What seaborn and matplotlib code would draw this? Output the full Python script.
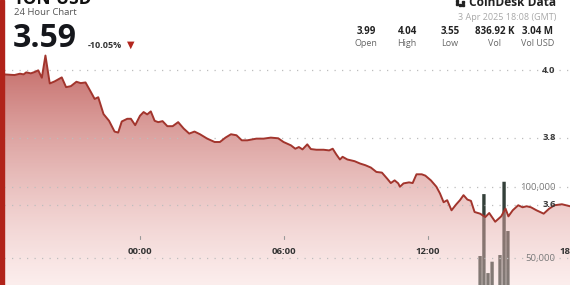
import numpy as np
import matplotlib
matplotlib.use("Agg")
import matplotlib.pyplot as plt
import matplotlib.transforms as mtransforms
from matplotlib.patches import Rectangle
from matplotlib.lines import Line2D
import seaborn as sns

# ---------------- data ----------------
hours = [-5.68, -5.23, -5.0, -4.85, -4.74, -4.55, -4.39, -4.24, -4.09, -3.94,
         -3.76, -3.56, -3.26, -3.08, -2.88, -2.65, -2.47, -2.27, -2.05, -1.89,
         -1.74, -1.52, -1.29, -1.06, -0.91, -0.76, -0.53, -0.38, -0.20, 0.0,
         0.15, 0.30, 0.45, 0.61, 0.76, 0.94, 1.14, 1.36, 1.59, 1.82,
         2.05, 2.27, 2.50, 2.80, 3.11, 3.33, 3.56, 3.79, 4.02, 4.24,
         4.47, 4.62, 4.85, 5.15, 5.45, 5.76, 5.98, 6.29, 6.47, 6.62,
         6.77, 6.97, 7.12, 7.35, 7.65, 7.88, 8.03, 8.18, 8.33, 8.44,
         8.64, 8.94, 9.17, 9.39, 9.62, 9.85, 10.08, 10.30, 10.45, 10.61,
         10.76, 10.83, 10.98, 11.21, 11.36, 11.52, 11.74, 11.89, 12.12, 12.35,
         12.50, 12.65, 12.80, 12.98, 13.18, 13.33, 13.48, 13.64, 13.79, 13.94,
         14.17, 14.39, 14.55, 14.80, 15.05, 15.23, 15.35, 15.53, 15.76, 15.94,
         16.11, 16.29, 16.52, 16.82, 17.05, 17.27, 17.58, 17.92]
prices = [3.988, 3.986, 3.990, 3.988, 3.994, 3.991, 3.995, 4.000, 3.978, 4.044,
          3.961, 3.967, 3.979, 3.950, 3.953, 3.966, 3.962, 3.964, 3.936, 3.915,
          3.920, 3.870, 3.850, 3.818, 3.815, 3.848, 3.856, 3.856, 3.837, 3.865,
          3.876, 3.869, 3.878, 3.850, 3.846, 3.849, 3.834, 3.834, 3.846, 3.827,
          3.812, 3.818, 3.810, 3.797, 3.787, 3.787, 3.800, 3.810, 3.807, 3.792,
          3.792, 3.794, 3.797, 3.797, 3.800, 3.798, 3.787, 3.777, 3.767, 3.772,
          3.765, 3.780, 3.766, 3.764, 3.764, 3.762, 3.767, 3.750, 3.735, 3.743,
          3.735, 3.730, 3.723, 3.718, 3.711, 3.698, 3.696, 3.678, 3.665, 3.673,
          3.664, 3.654, 3.664, 3.667, 3.665, 3.691, 3.691, 3.687, 3.673, 3.654,
          3.634, 3.608, 3.614, 3.584, 3.602, 3.614, 3.629, 3.616, 3.612, 3.579,
          3.574, 3.564, 3.576, 3.550, 3.566, 3.589, 3.566, 3.584, 3.599, 3.593,
          3.596, 3.593, 3.584, 3.574, 3.589, 3.599, 3.602, 3.596]

vol_hours = [14.17, 14.33, 14.50, 14.67, 15.00, 15.17, 15.33]
vol_values = [51400, 95000, 39400, 47400, 52100, 103700, 69000]

x_ticks = [0, 6, 12, 18]
x_tick_labels = ["00:00", "06:00", "12:00", "18:00"]
price_ticks = [4.0, 3.8, 3.6]
price_tick_labels = ["4.0", "3.8", "3.6"]
vol_ticks = [100000, 50000]
vol_tick_labels = ["100,000", "50,000"]

title = "TON-USD"
subtitle = "24 Hour Chart"
last_price = "3.59"
change = "-10.05%"
brand = "CoinDesk Data"
timestamp = "3 Apr 2025 18:08 (GMT)"
stat_values = ["3.99", "4.04", "3.55", "836.92 K", "3.04 M"]
stat_labels = ["Open", "High", "Low", "Vol", "Vol USD"]

# ---------------- style ----------------
sns.set_theme(style="white")
plt.rcParams["font.family"] = ["Open Sans", "DejaVu Sans"]

W, H = 570, 285
fig = plt.figure(figsize=(W / 100, H / 100), dpi=100)
fig.patch.set_facecolor("white")

def fx(px):
    return px / W

def fy(py):
    return 1 - py / H

left_px = 4
ax_v = fig.add_axes([fx(left_px), 0, 1 - fx(left_px), 1])
ax_p = ax_v.twinx()
ax_p.patch.set_visible(False)

x_lim = ((left_px - 140) / 24, (W - 140) / 24)
p_lim = (3.362, 4.209)
v_lim = (30990, 231690)

# volume bars (behind price fill), 10-minute bins
bars = ax_v.bar(vol_hours, vol_values, width=0.14, color="#34403a",
                linewidth=0, edgecolor="none", zorder=1)
for b in bars:
    b.set_snap(False)

# price line
sns.lineplot(x=hours, y=prices, ax=ax_p, color="#a2352d", linewidth=1.4, zorder=5)

# gradient area under line
poly = ax_p.fill_between(hours, prices, y2=p_lim[0] - 0.1,
                         facecolor="none", edgecolor="none")
n = 256
t = np.linspace(0, 1, n)[:, None]
top = np.array([172, 45, 40]) / 255
bot = np.array([248, 212, 210]) / 255
rgb = top * (1 - t) + bot * t
alpha = 0.74 * (1 - t) + 0.40 * t
img = np.concatenate([rgb, alpha], axis=1)[:, None, :]
im = ax_p.imshow(img, extent=[x_lim[0], x_lim[1], p_lim[0], 4.06],
                 aspect="auto", origin="upper", zorder=2, interpolation="bilinear")
im.set_clip_path(poly.get_paths()[0], poly.get_transform())

# dotted grid lines
dot = (0, (1, 5))
for v in price_ticks:
    ax_p.axhline(v, color="#bdbdbd", lw=0.9, ls=dot, zorder=3)
vt = mtransforms.blended_transform_factory(ax_p.transAxes, ax_v.transData)
for v in vol_ticks:
    ax_p.add_line(Line2D([0, 1], [v, v], transform=vt, color="#bdbdbd",
                         lw=0.9, ls=dot, zorder=3))

# axis labels inside plot
pt = mtransforms.blended_transform_factory(ax_p.transAxes, ax_p.transData)
for v, lab in zip(price_ticks, price_tick_labels):
    ax_p.text(0.975, v, lab, transform=pt, ha="right", va="center",
              fontsize=6.8, fontweight="bold", color="#3a3a3a", zorder=6)
for v, lab in zip(vol_ticks, vol_tick_labels):
    ax_p.text(0.975, v, lab, transform=vt, ha="right", va="center",
              fontsize=6.8, color="#7a7a7a", zorder=6)

xt = mtransforms.blended_transform_factory(ax_p.transData, ax_p.transAxes)
for v, lab in zip(x_ticks, x_tick_labels):
    ax_p.text(v, 1 - 252 / H, lab, transform=xt, ha="center", va="center",
              fontsize=6.8, fontweight="bold", color="#333333", zorder=6,
              clip_on=False)
    ax_p.plot([v, v], [1 - 236 / H, 1 - 239 / H], transform=xt,
              color="#999999", lw=0.8, zorder=6)

for a in (ax_v, ax_p):
    a.set_xlim(*x_lim)
    a.set_xticks([])
    a.set_yticks([])
    a.set_xlabel("")
    a.set_ylabel("")
    for s in a.spines.values():
        s.set_visible(False)
ax_p.set_ylim(*p_lim)
ax_v.set_ylim(*v_lim)

# left stripe
fig.patches.append(Rectangle((0, 0), fx(left_px), 1, transform=fig.transFigure,
                             color="#b1231a", zorder=10))

# header
fig.text(fx(14), fy(4), title, fontsize=12.5, fontweight="bold",
         color="#111111", va="baseline", ha="left")
fig.text(fx(14), fy(12.5), subtitle, fontsize=6.8, color="#555555",
         va="center", ha="left")
fig.text(fx(13), fy(47), last_price, fontsize=23, fontweight="bold",
         color="#15171c", va="baseline", ha="left")
fig.text(fx(88), fy(45), change, fontsize=6.5, fontweight="bold",
         color="#333333", va="center", ha="left")
fig.text(fx(131), fy(45), "▼", fontsize=7, color="#b3261e", va="center",
         ha="center", family="DejaVu Sans")

fig.text(fx(556), fy(5.5), brand, fontsize=8.6, fontweight="bold",
         color="#222222", va="baseline", ha="right")
for (ix, iy) in [(456, 0), (456, 3), (459, 4), (462, 1), (462, 4)]:
    fig.patches.append(Rectangle((fx(ix), fy(iy + 2)), fx(2), 2 / H,
                                 transform=fig.transFigure, color="#222222"))
fig.text(fx(556), fy(17), timestamp, fontsize=6.5, color="#a8a8a8",
         va="center", ha="right")

stat_x = [366, 407, 450, 495, 538]
for x, val, lab in zip(stat_x, stat_values, stat_labels):
    fig.text(fx(x), fy(31.5), val, fontsize=7, fontweight="bold",
             color="#222222", va="center", ha="center")
    fig.text(fx(x), fy(43.5), lab, fontsize=6.5, color="#666666",
             va="center", ha="center")

fig.savefig("out.png", dpi=100)
